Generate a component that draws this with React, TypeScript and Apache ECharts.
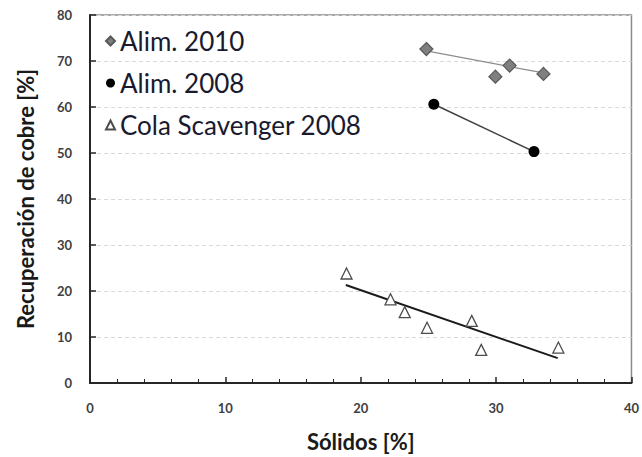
import React, { useEffect, useRef } from "react";
import * as echarts from "echarts";

// Sólidos [%] vs. recuperación de cobre [%]
const alim2010X = [24.85, 29.95, 31.0, 33.5];
const alim2010Y = [72.6, 66.6, 69.0, 67.2];
const alim2010TrendX = [24.85, 33.5];
const alim2010TrendY = [72.2, 67.4];

const alim2008X = [25.4, 32.8];
const alim2008Y = [60.6, 50.3];

const colaX = [18.95, 22.2, 23.25, 24.9, 28.2, 28.9, 34.6];
const colaY = [23.8, 18.2, 15.4, 12.0, 13.5, 7.2, 7.7];
const colaTrendX = [18.9, 34.55];
const colaTrendY = [21.3, 5.4];

const xTicks = [0, 10, 20, 30, 40];
const yTicks = [0, 10, 20, 30, 40, 50, 60, 70, 80];

const pairs = (xs: number[], ys: number[]) => xs.map((x, i) => [x, ys[i]]);

export default function App() {
  const ref = useRef<HTMLDivElement>(null);

  useEffect(() => {
    if (!ref.current) return;
    const chart = echarts.init(ref.current, undefined, { renderer: "svg" });
    const font = "Lato, 'Open Sans', 'Liberation Sans', sans-serif";
    chart.setOption({
      animation: false,
      textStyle: { fontFamily: font },
      grid: {
        left: 90,
        right: 9,
        top: 15,
        bottom: 74,
        show: true,
        borderColor: "#8c8c8c",
        borderWidth: 1.5,
      },
      legend: {
        orient: "vertical",
        left: 100,
        top: 21,
        itemGap: 12,
        itemWidth: 9,
        itemHeight: 9,
        textStyle: { fontSize: 26, lineHeight: 30, color: "#1a1a2e", fontFamily: font },
        data: ["Alim. 2010", "Alim. 2008", "Cola Scavenger 2008"],
      },
      xAxis: {
        type: "value",
        min: xTicks[0],
        max: xTicks[xTicks.length - 1],
        interval: 10,
        name: "Sólidos [%]",
        nameLocation: "middle",
        nameGap: 47,
        nameTextStyle: { fontSize: 22, fontWeight: "bold", color: "#1a1a1a" },
        axisLine: { lineStyle: { color: "#262626", width: 2 } },
        axisTick: { inside: true, length: 6, lineStyle: { color: "#262626", width: 1.5 } },
        minorTick: { show: true, splitNumber: 5, length: 4, lineStyle: { color: "#262626", width: 1 } },
        axisLabel: { fontSize: 13, fontWeight: "bold", color: "#404040", margin: 18 },
        splitLine: { show: false },
      },
      yAxis: {
        type: "value",
        min: yTicks[0],
        max: yTicks[yTicks.length - 1],
        interval: 10,
        name: "Recuperación de cobre [%]",
        nameLocation: "middle",
        nameGap: 54,
        nameTextStyle: { fontSize: 22, fontWeight: "bold", color: "#1a1a1a" },
        axisLine: { lineStyle: { color: "#262626", width: 2 } },
        axisTick: { inside: true, length: 6, lineStyle: { color: "#262626", width: 1.5 } },
        axisLabel: { fontSize: 13, fontWeight: "bold", color: "#404040", margin: 18 },
        splitLine: { show: true, lineStyle: { color: "#d9d9d9", type: [4, 3], width: 1 } },
      },
      series: [
        {
          name: "Alim. 2010 tendencia",
          type: "line",
          data: pairs(alim2010TrendX, alim2010TrendY),
          symbol: "none",
          lineStyle: { color: "#8c8c8c", width: 1.2 },
          z: 2,
        },
        {
          name: "Alim. 2008 tendencia",
          type: "line",
          data: pairs(alim2008X, alim2008Y),
          symbol: "none",
          lineStyle: { color: "#404040", width: 1.5 },
          z: 2,
        },
        {
          name: "Cola Scavenger 2008 tendencia",
          type: "line",
          data: pairs(colaTrendX, colaTrendY),
          symbol: "none",
          lineStyle: { color: "#1a1a1a", width: 2 },
          z: 2,
        },
        {
          name: "Alim. 2010",
          type: "scatter",
          data: pairs(alim2010X, alim2010Y),
          symbol: "diamond",
          symbolSize: 13,
          itemStyle: { color: "#7f7f7f", borderColor: "#595959", borderWidth: 1.2, opacity: 1 },
          z: 3,
        },
        {
          name: "Alim. 2008",
          type: "scatter",
          data: pairs(alim2008X, alim2008Y),
          symbol: "circle",
          symbolSize: 11,
          itemStyle: { color: "#000000", opacity: 1 },
          z: 3,
        },
        {
          name: "Cola Scavenger 2008",
          type: "scatter",
          data: pairs(colaX, colaY),
          symbol: "triangle",
          symbolSize: 11,
          itemStyle: { color: "#ffffff", borderColor: "#4d4d4d", borderWidth: 1.3, opacity: 1 },
          z: 3,
        },
      ],
    });
    return () => chart.dispose();
  }, []);

  return <div ref={ref} style={{ width: 642, height: 457, position: "absolute", left: 0, top: 0, background: "#ffffff" }} />;
}
